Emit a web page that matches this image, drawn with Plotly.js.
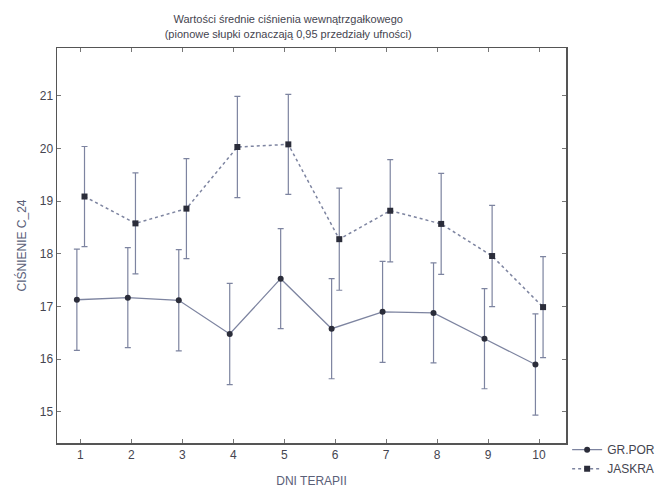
<!DOCTYPE html>
<html><head><meta charset="utf-8">
<script src="https://cdn.plot.ly/plotly-3.0.1.min.js"></script>
<style>html,body{margin:0;padding:0;background:#fff}</style>
</head><body>
<div id="chart" style="width:661px;height:489px"></div>
<script>
const days = [1,2,3,4,5,6,7,8,9,10];
const grPorMean = [17.13,17.17,17.12,16.48,17.53,16.58,16.90,16.88,16.39,15.90];
const grPorCI   = [0.96,0.95,0.96,0.96,0.95,0.95,0.96,0.95,0.95,0.96];
const jaskraMean = [19.09,18.58,18.86,20.03,20.08,18.28,18.82,18.57,17.96,16.99];
const jaskraCI   = [0.95,0.96,0.95,0.96,0.95,0.97,0.97,0.96,0.96,0.96];
const seriesNames = ['GR.POR','JASKRA'];

const lineCol = '#7d84a0';
const markCol = '#2b2d3a';
const txtCol = '#454550';
const font = 'Liberation Sans, Arial, sans-serif';

const traces = [
  {
    x: days.map(d => d - 0.07), y: grPorMean, name: seriesNames[0],
    type: 'scatter', mode: 'lines+markers',
    line: {color: lineCol, width: 1.3},
    marker: {symbol: 'circle', size: 6, color: markCol},
    error_y: {type: 'data', array: grPorCI, visible: true, color: lineCol, thickness: 1.2, width: 3}
  },
  {
    x: days.map(d => d + 0.08), y: jaskraMean, name: seriesNames[1],
    type: 'scatter', mode: 'lines+markers',
    line: {color: lineCol, width: 1.5, dash: 'dot'},
    marker: {symbol: 'square', size: 6, color: markCol},
    error_y: {type: 'data', array: jaskraCI, visible: true, color: lineCol, thickness: 1.2, width: 3}
  }
];

const layout = {
  width: 661, height: 489,
  margin: {l: 57, r: 95, t: 48, b: 46, autoexpand: false},
  paper_bgcolor: '#fff', plot_bgcolor: '#fff',
  font: {family: font, size: 12, color: txtCol},
  title: {
    text: 'Wartości średnie ciśnienia wewnątrzgałkowego<br>(pionowe słupki oznaczają 0,95 przedziały ufności)',
    font: {family: font, size: 11, color: txtCol},
    x: 0.436, xanchor: 'center', yref: 'container', y: 0.952, yanchor: 'top'
  },
  xaxis: {
    range: [0.54, 10.53], tickvals: days, ticktext: days.map(String),
    showgrid: false, zeroline: false, automargin: false,
    showline: true, linecolor: '#555', linewidth: 1.5, mirror: 'ticks',
    ticks: 'inside', ticklen: 4, tickcolor: '#777',
    tickfont: {family: font, size: 12, color: txtCol},
    title: {text: 'DNI TERAPII', font: {family: font, size: 12, color: '#5a6078'}, standoff: 15}
  },
  yaxis: {
    range: [14.41, 21.91], tickvals: [15,16,17,18,19,20,21],
    showgrid: false, zeroline: false, automargin: false,
    showline: true, linecolor: '#555', linewidth: 1.5, mirror: 'ticks',
    ticks: 'inside', ticklen: 4, tickcolor: '#777',
    tickfont: {family: font, size: 12, color: txtCol},
    title: {text: 'CIŚNIENIE C_24', font: {family: font, size: 12, color: '#5a6078'}, standoff: 10}
  },
  showlegend: true,
  legend: {
    xref: 'container', yref: 'container',
    x: 0.858, xanchor: 'left', y: 0.110, yanchor: 'top',
    font: {family: font, size: 12, color: txtCol},
    bgcolor: 'rgba(0,0,0,0)', tracegroupgap: 0, itemwidth: 30
  }
};

Plotly.newPlot('chart', traces, layout, {displayModeBar: false, staticPlot: true});
</script>
</body></html>
